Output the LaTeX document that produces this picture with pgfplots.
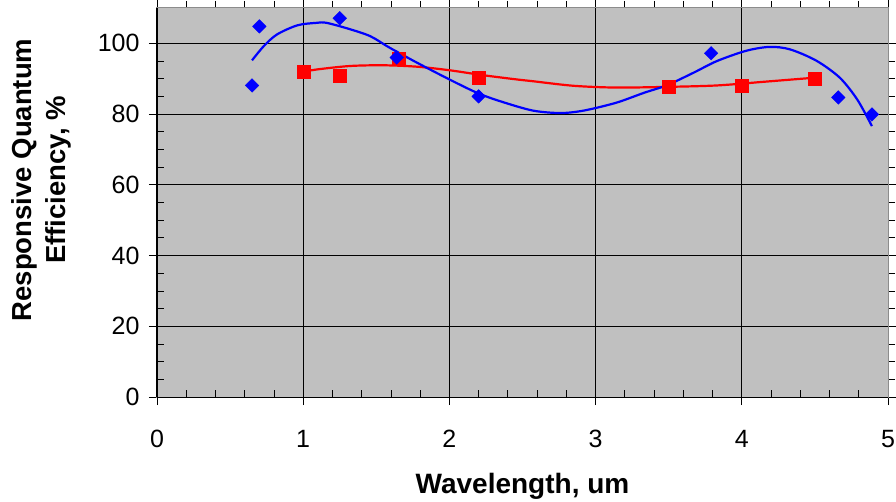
\documentclass[border=0pt]{standalone}
\usepackage{fontspec}
\setmainfont{Liberation Sans}
\usepackage{pgfplots}
\pgfplotsset{compat=1.18}
\definecolor{plotgray}{RGB}{192,192,192}
\definecolor{xlblue}{RGB}{0,0,255}
\definecolor{xlred}{RGB}{255,0,0}
\begin{document}
\begin{tikzpicture}
\path[use as bounding box] (0pt,0pt) rectangle (896pt,501pt);
\begin{axis}[
  at={(157pt,104pt)}, anchor=south west,
  scale only axis, width=731pt, height=389pt,
  xmin=0, xmax=5, ymin=0, ymax=110,
  xtick={0,1,2,3,4,5}, ytick={0,20,40,60,80,100},
  minor x tick num=4, minor y tick num=3,
  grid=major,
  major grid style={black, line width=0.8pt},
  axis background/.style={fill=plotgray},
  axis line style={draw=gray!90, line width=1pt},
  tick style={black, line width=0.8pt},
  tick align=center,
  major tick length=16pt,
  minor tick length=7pt,
  minor x tick style={yshift=3.5pt},
  minor y tick style={xshift=3.5pt},
  ticklabel style={font=\fontsize{25}{29}\selectfont},
  /pgf/number format/assume math mode=true,
  xticklabel style={anchor=base, yshift=-42pt},
  yticklabel style={anchor=east, xshift=-6pt},
  xlabel={Wavelength, um},
  ylabel={Responsive Quantum\\Efficiency, \%},
  xlabel style={font=\bfseries\fontsize{28}{32}\selectfont, at={(axis description cs:0.5,-0.248)}, anchor=base},
  ylabel style={font=\bfseries\fontsize{27.5}{34}\selectfont, align=center, at={(axis description cs:-0.158,0.558)}, anchor=center, rotate=0},
  clip=false,
]
% red trend line
\addplot[xlred, line width=2.2pt, smooth] coordinates {
 (1.00,91.9) (1.09,92.6) (1.32,93.6) (1.55,93.8) (1.78,93.4) (2.00,92.4)
 (2.23,91.0) (2.46,89.8) (2.57,89.3) (2.85,88.0) (3.14,87.5) (3.49,87.7)
 (3.83,88.1) (4.17,89.2) (4.50,90.3)
};
% red squares
\addplot[only marks, mark=square*, mark size=6.5pt, mark options={fill=xlred, draw=xlred}] coordinates {
 (1.00,92.1) (1.25,90.9) (1.65,95.6) (2.20,90.3) (3.50,87.8) (4.00,88.1) (4.50,90.1)
};
% blue trend line
\addplot[xlblue, line width=2.2pt, smooth] coordinates {
 (0.65,95.2) (0.73,99.2) (0.82,102.5) (0.96,105.1) (1.09,105.8) (1.16,105.8)
 (1.32,104.0) (1.46,102.0) (1.59,98.8) (1.78,94.5) (2.00,89.8) (2.19,86.0)
 (2.35,83.6) (2.57,81.0) (2.76,80.3) (2.92,81.0) (3.14,83.2) (3.33,86.0)
 (3.49,88.2) (3.67,91.7) (3.83,95.0) (4.03,97.9) (4.19,99.0) (4.33,98.3)
 (4.51,95.1) (4.67,90.3) (4.79,84.1) (4.89,76.6)
};
% blue diamonds
\addplot[only marks, mark=square*, mark size=4.8pt, mark options={fill=xlblue, draw=xlblue, rotate=45}] coordinates {
 (0.65,88.1) (0.70,104.8) (1.25,107.1) (1.64,96.0) (2.20,85.0) (3.79,97.2) (4.66,84.7) (4.89,79.9)
};
\draw[black, line width=1pt] (rel axis cs:0,0) -- (rel axis cs:0,1);
\draw[black, line width=1pt] (rel axis cs:0,0) -- (rel axis cs:1,0);
\end{axis}
\end{tikzpicture}
\end{document}
